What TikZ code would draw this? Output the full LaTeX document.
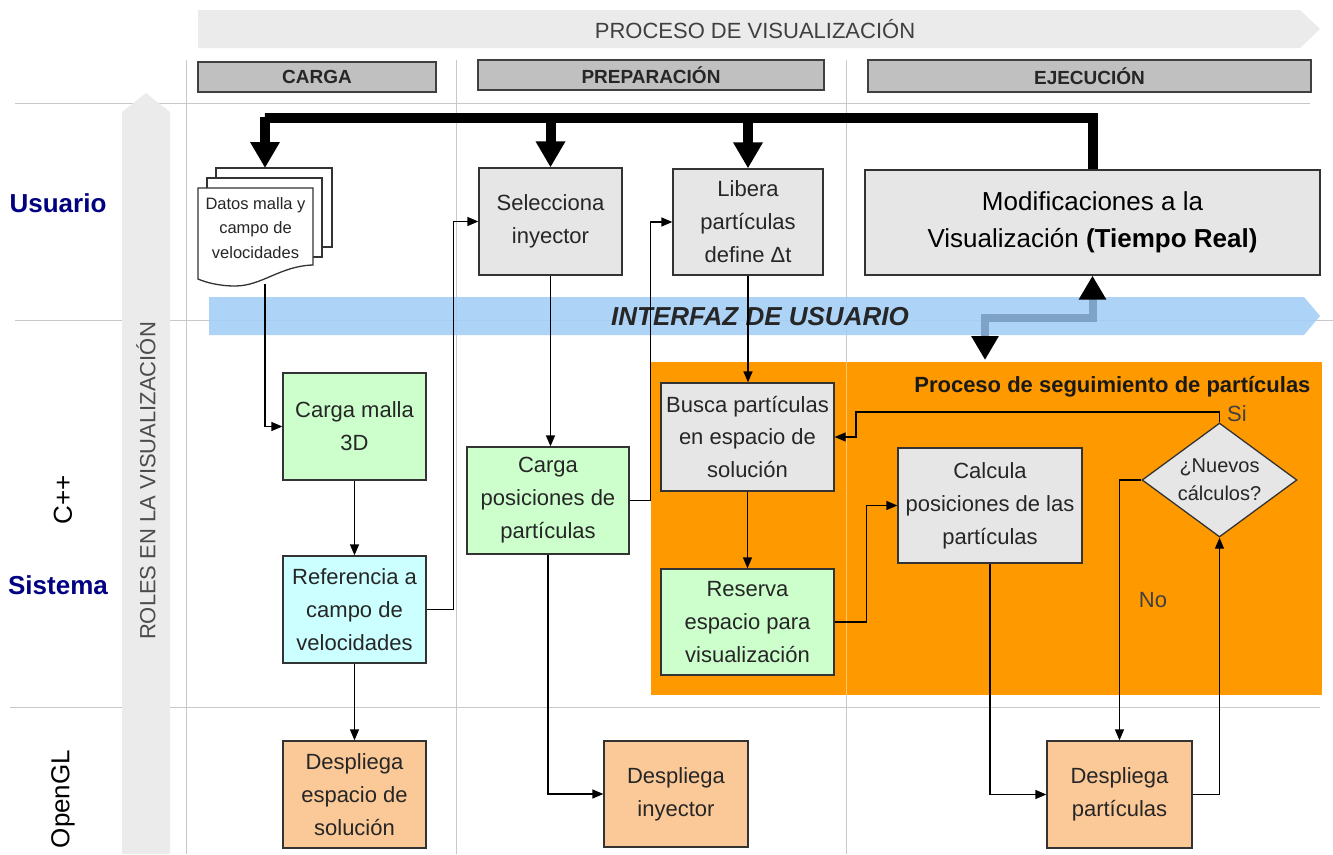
\documentclass[tikz,border=0pt]{standalone}
\usepackage{fontspec}
\setmainfont{Liberation Sans}
\usetikzlibrary{arrows.meta,shapes.geometric}

\definecolor{grisbox}{HTML}{E6E6E6}
\definecolor{verde}{HTML}{CCFFCC}
\definecolor{celeste}{HTML}{CCFFFF}
\definecolor{durazno}{HTML}{FBC997}
\definecolor{naranja}{HTML}{FF9900}
\definecolor{azului}{HTML}{A4CEF6}
\definecolor{azullink}{HTML}{7FA3C6}
\definecolor{marino}{HTML}{000080}
\definecolor{fondo}{HTML}{EBEBEB}
\definecolor{fase}{HTML}{C0C0C0}
\definecolor{rejilla}{HTML}{C8C8C8}

\tikzset{
  caja/.style={draw=black!80, line width=1.3pt, inner sep=0pt, align=center,
    text=black!85, font=\fontsize{22}{33}\selectfont},
  gris/.style={caja, fill=grisbox},
  verdebox/.style={caja, fill=verde},
  celestebox/.style={caja, fill=celeste},
  despliegue/.style={caja, fill=durazno},
  fasebox/.style={draw=black!75, line width=1.3pt, fill=fase, inner sep=0pt,
    font=\bfseries\fontsize{19}{22}\selectfont, text=black!85},
  rol/.style={font=\bfseries\fontsize{26}{30}\selectfont, text=marino},
  capa/.style={font=\fontsize{26}{30}\selectfont, rotate=90},
  flecha/.style={draw=black, line width=1.3pt, -{Triangle[length=11pt,width=9pt]}},
  bus/.style={draw=black, line width=10pt},
  busflecha/.style={bus, -{Triangle[length=26pt,width=28pt]}},
  hoja/.style={draw=black!80, line width=1.3pt, fill=white},
  rejillas/.style={draw=rejilla, line width=1pt},
}

\begin{document}
\begin{tikzpicture}[x=1pt, y=-1pt]
    \useasboundingbox (0,0) rectangle (1333,854);

    % rejilla de carriles
    \draw[rejillas] (15,103) -- (1310,103);
    \draw[rejillas] (15,320) -- (1333,320);
    \draw[rejillas] (10,707) -- (1320,707);
    \draw[rejillas] (186,60) -- (186,854);
    \draw[rejillas] (456,60) -- (456,854);
    \draw[rejillas] (846,60) -- (846,854);

    % flechas de fondo
    \fill[fondo] (198,10) -- (1300,10) -- (1320,29) -- (1300,48) -- (198,48) -- cycle;
    \node[font=\fontsize{22}{26}\selectfont, text=black!75] (proceso) at (755,29) {PROCESO DE VISUALIZACIÓN};
    \fill[fondo] (122,854) -- (122,112) -- (146,93) -- (170,112) -- (170,854) -- cycle;
    \node[font=\fontsize{22}{26}\selectfont, text=black!70, rotate=90] (roles) at (146,481) {ROLES EN LA VISUALIZACIÓN};

    % fases
    \node[fasebox, minimum width=238pt, minimum height=30pt] (fcarga) at (317,77) {CARGA};
    \node[fasebox, minimum width=346pt, minimum height=30pt] (fprep) at (651,75) {PREPARACIÓN};
    \node[fasebox, minimum width=443pt, minimum height=32pt] (fejec) at (1089.5,76) {EJECUCIÓN};

    % roles
    \node[rol] (usuario) at (58,203) {Usuario};
    \node[rol] (sistema) at (58,585) {Sistema};
    \node[capa] (cpp) at (63,500) {C++};
    \node[capa] (opengl) at (63,799) {OpenGL};

    % proceso de seguimiento
    \fill[naranja] (651,362) rectangle (1322,695);
    \draw[line width=1pt, naranja!55!white] (846,362) -- (846,695);
    \node[anchor=east, font=\bfseries\fontsize{22}{26}\selectfont, text=black!90] (seguim) at (1314,387) {Proceso de seguimiento de partículas};

    % interfaz de usuario
    \fill[azului, opacity=.9] (209,297) -- (1304,297) -- (1320,316) -- (1304,335) -- (209,335) -- cycle;
    \node[font=\bfseries\itshape\fontsize{26}{30}\selectfont, text=black!85] (interfaz) at (760,317) {INTERFAZ DE USUARIO};

    % documento
    \draw[hoja] (216,168) rectangle (332,247);
    \draw[hoja] (207,178) rectangle (322,257);
    \draw[hoja] (198,188) -- (313,188) -- (313,265) .. controls (280,266) and (262,286) .. (235,286) .. controls (218,286) and (205,282) .. (198,279) -- cycle;
    \node[font=\fontsize{16.5}{24.5}\selectfont, align=center, inner sep=0pt, text=black!85] (datos) at (255.5,228) {Datos malla y\\campo de\\velocidades};
    \coordinate (datosin) at (265,168);
    \coordinate (datosout) at (265,284);

    % carga
    \node[verdebox, minimum width=143pt, minimum height=107pt] (carga) at (354.5,426.5) {Carga malla\\3D};
    \node[celestebox, minimum width=143pt, minimum height=107pt] (ref) at (354.5,609.5) {Referencia a\\campo de\\velocidades};
    \node[despliegue, minimum width=143pt, minimum height=107pt] (dsol) at (354.5,794.5) {Despliega\\espacio de\\solución};

    % preparacion
    \node[gris, minimum width=143pt, minimum height=107pt] (selec) at (550.5,221.5) {Selecciona\\inyector};
    \node[verdebox, minimum width=162pt, minimum height=107pt] (cpos) at (548,500.5) {Carga\\posiciones de\\partículas};
    \node[despliegue, minimum width=144pt, minimum height=106pt] (dinyec) at (676,794) {Despliega\\inyector};
    \node[gris, minimum width=150pt, minimum height=106pt] (libera) at (748,222) {Libera\\partículas\\define Δt};
    \node[gris, minimum width=173pt, minimum height=108pt] (busca) at (747.5,437) {Busca partículas\\en espacio de\\solución};
    \node[verdebox, minimum width=173pt, minimum height=106pt] (reserva) at (747.5,622) {Reserva\\espacio para\\visualización};

    % ejecucion
    \node[gris, minimum width=455pt, minimum height=105pt, font=\fontsize{26}{37}\selectfont, text=black] (modif) at (1092.5,222.5) {Modificaciones a la\\Visualización \textbf{(Tiempo Real)}};
    \node[gris, minimum width=184pt, minimum height=115pt] (calcula) at (990,505.5) {Calcula\\posiciones de las\\partículas};
    \node[gris, diamond, minimum width=155pt, minimum height=114pt] (diam) at (1219.5,480) {};
    \node[font=\fontsize{20}{28}\selectfont, align=center, text=black!85] (diamtxt) at (diam) {¿Nuevos\\cálculos?};
    \node[despliegue, minimum width=145pt, minimum height=107pt] (dpart) at (1119.5,794.5) {Despliega\\partículas};

    % bus del usuario
    \coordinate (busizq) at (265,118);
    \draw[bus, line join=miter] (modif.north) |- (busizq) -- ++(0,-1);
    \draw[busflecha] (busizq) -- (datosin);
    \draw[busflecha] (selec.north |- busizq) -- (selec.north);
    \draw[busflecha] (libera.north |- busizq) -- (libera.north);

    % enlace interfaz
    \coordinate (uiabajo) at (985,360);
    \draw[line width=8pt, azullink, {Triangle[length=24pt,width=26pt,color=black]}-{Triangle[length=24pt,width=26pt,color=black]}] (uiabajo) -- ++(0,-42) -| (modif.south);

    % conectores
    \draw[flecha] (datosout) |- (carga.west);
    \draw[flecha] (carga.south) -- (ref.north);
    \draw[flecha] (ref.south) -- (dsol.north);
    \draw[flecha] (ref.east) -- ++(27,0) |- (selec.west);
    \draw[flecha] (selec.south) -- (selec.south |- cpos.north);
    \draw[flecha] (cpos.south) |- (dinyec.west);
    \draw[flecha] (cpos.east) -- ++(21,0) |- (libera.west);
    \draw[flecha] (libera.south) -- (libera.south |- busca.north);
    \draw[flecha] (busca.south) -- (reserva.north);
    \draw[flecha] (reserva.east) -- ++(32,0) |- (calcula.west);
    \draw[flecha] (calcula.south) |- (dpart.west);
    \draw[flecha] (diam.west) -| (dpart.north);
    \draw[flecha] (dpart.east) -| (diam.south);
    \coordinate (sivuelta) at (856,412);
    \draw[flecha] (diam.north) |- (sivuelta) |- (busca.east);

    \node[font=\fontsize{22}{26}\selectfont, text=black!75] (si) at (1237,414) {Si};
    \node[font=\fontsize{22}{26}\selectfont, text=black!75] (no) at (1153,600) {No};
\end{tikzpicture}
\end{document}
